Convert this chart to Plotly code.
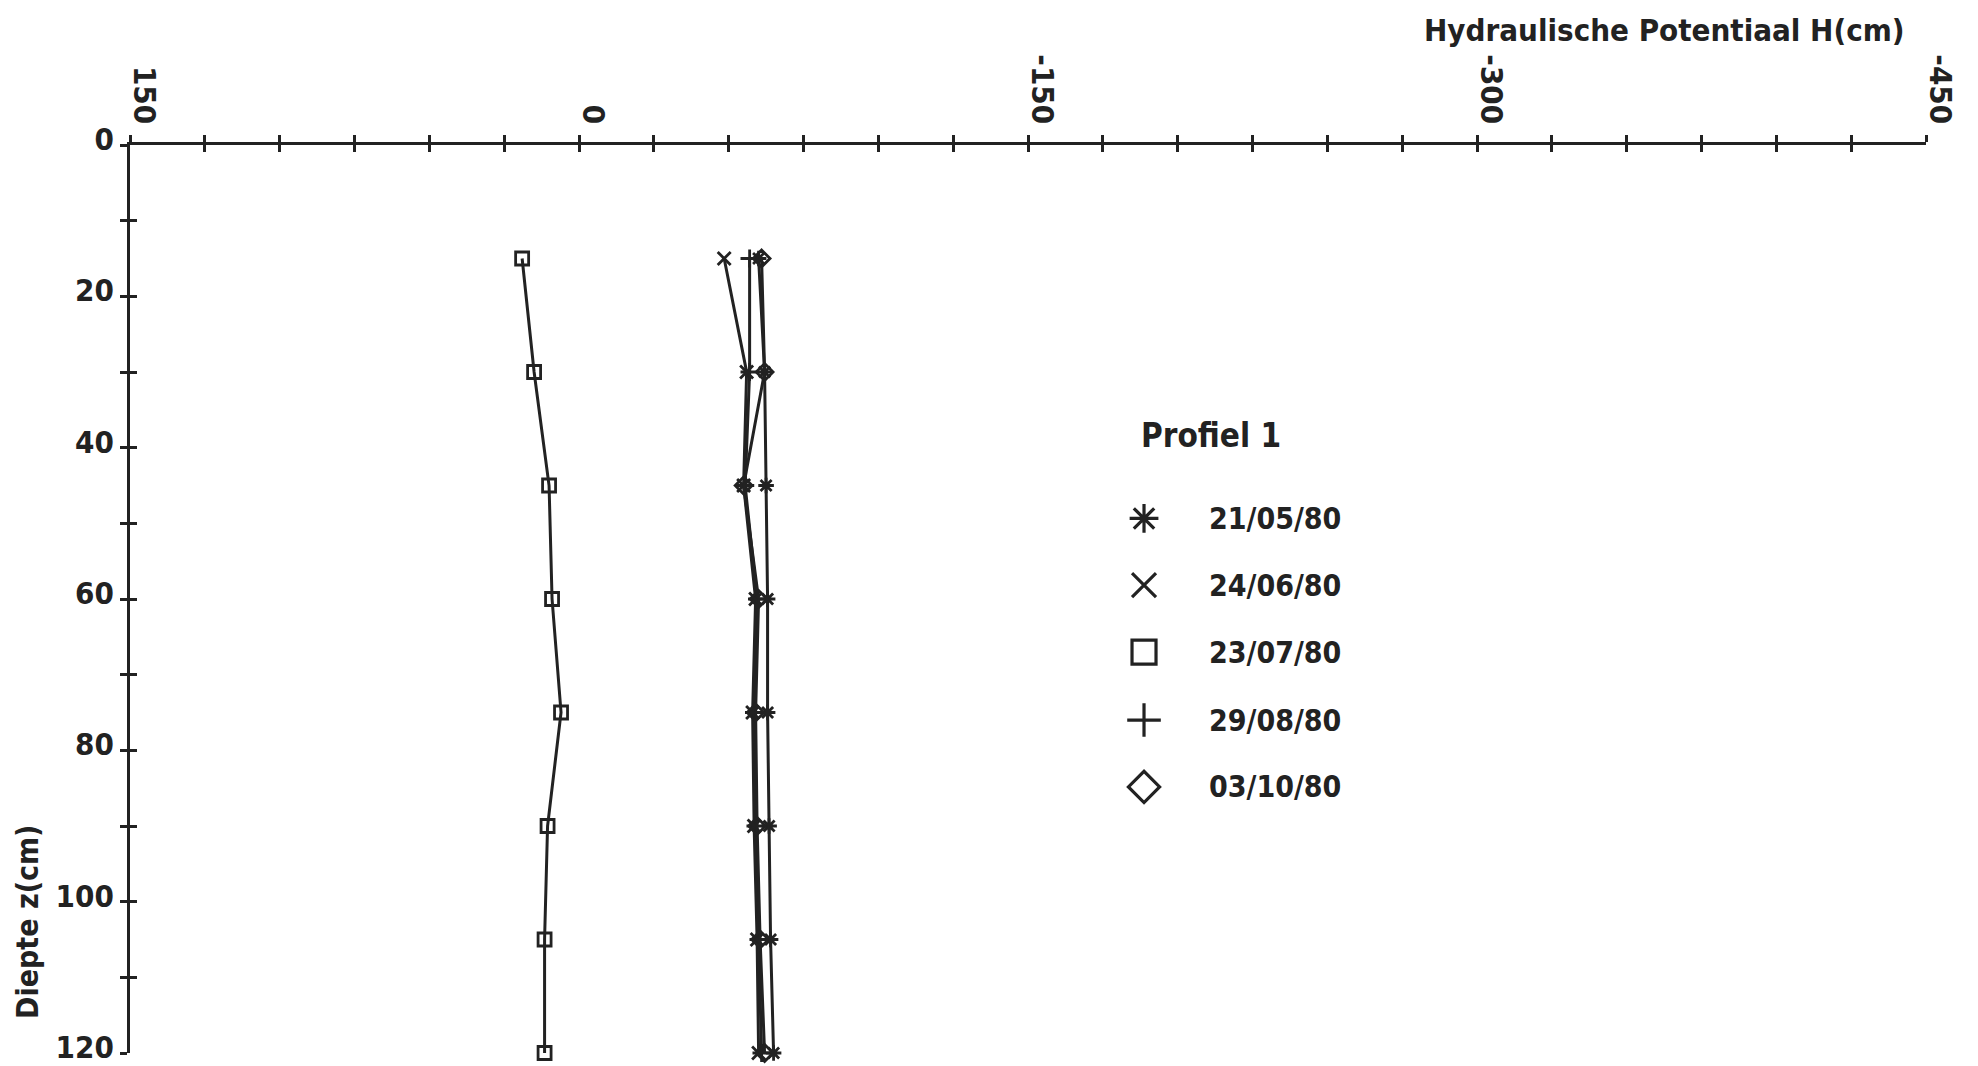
import plotly.graph_objects as go

# Measurement depths (cm) and hydraulic potential H (cm) per sampling date
depth = [15, 30, 45, 60, 75, 90, 105, 120]
dates = ["21/05/80", "24/06/80", "23/07/80", "29/08/80", "03/10/80"]
h_2105 = [-60, -62, -62.5, -63, -63, -63.5, -64, -65]
h_2406 = [-48.5, -56, -55, -59, -58, -58.5, -59.5, -60]
h_2307 = [19, 15, 10, 9, 6, 10.5, 11.5, 11.5]
h_2908 = [-57, -57, -55.5, -59.5, -58.5, -59, -60, -61]
h_0310 = [-61, -62, -55, -60, -59, -59.5, -60.5, -62]
series = [h_2105, h_2406, h_2307, h_2908, h_0310]
symbols = ["asterisk-open", "x-thin-open", "square-open", "cross-thin-open", "diamond-open"]

x_ticks = list(range(150, -451, -25))
x_labels = [str(v) if v % 150 == 0 else "" for v in x_ticks]
y_ticks = list(range(0, 121, 10))
y_labels = [str(v) if v % 20 == 0 else "" for v in y_ticks]

INK = "#222222"
FONT = "Liberation Sans Narrow, DejaVu Sans Condensed, DejaVu Sans Mono"


def txt(size):
    return dict(family=FONT, size=size, color=INK, weight="bold")


fig = go.Figure()

for vals, name, sym in zip(series, dates, symbols):
    fig.add_trace(go.Scatter(
        x=vals, y=depth, name=name, mode="lines+markers",
        line=dict(color=INK, width=3),
        marker=dict(symbol=sym, size=13, color=INK, line=dict(color=INK, width=2.8)),
        cliponaxis=False, showlegend=False,
    ))

# legend block: title, symbols and date labels
leg_x = 0.5646
leg_rows = [0.5887, 0.5154, 0.4416, 0.3667, 0.2930]
fig.add_trace(go.Scatter(
    x=[leg_x] * len(dates), y=leg_rows, mode="markers",
    marker=dict(symbol=symbols, size=24, color=INK, line=dict(color=INK, width=3.2)),
    xaxis="x3", yaxis="y3", showlegend=False, hoverinfo="skip",
))

annotations = [
    dict(text="Profiel 1", x=0.5618, y=0.6806, xref="paper", yref="paper",
         xanchor="left", yanchor="middle", showarrow=False, font=txt(33)),
    dict(text="Hydraulische Potentiaal H(cm)", x=0.9894, y=1.1267, xref="paper", yref="paper",
         xanchor="right", yanchor="middle", showarrow=False, font=txt(31)),
    dict(text="Diepte z(cm)", x=-0.0568, y=0.1443, xref="paper", yref="paper",
         xanchor="center", yanchor="middle", textangle=-90, showarrow=False, font=txt(30)),
]
for d, yr in zip(dates, leg_rows):
    annotations.append(dict(text=d, x=0.5997, y=yr, xref="paper", yref="paper",
                            xanchor="left", yanchor="middle", showarrow=False, font=txt(30)))

axis_common = dict(showgrid=False, zeroline=False, ticklen=7, tickwidth=2.5, tickcolor=INK,
                   automargin=False)

fig.update_layout(
    width=1978, height=1066,
    margin=dict(l=130, r=52, t=145, b=13),
    paper_bgcolor="white", plot_bgcolor="rgba(0,0,0,0)",
    font=txt(31),
    annotations=annotations,
    xaxis=dict(range=[150, -450], side="top", tickmode="array", tickvals=x_ticks, ticktext=x_labels,
               ticks="outside", tickangle=90, showline=True, linewidth=3, linecolor=INK,
               ticklabelshift=-14, ticklabelstandoff=0, ticklabeloverflow="allow",
               tickfont=txt(31), **axis_common),
    xaxis2=dict(range=[150, -450], side="top", overlaying="x", anchor="y", tickmode="array",
                tickvals=x_ticks, ticktext=[""] * len(x_ticks), ticks="inside", showline=False,
                **axis_common),
    yaxis=dict(range=[120, 0], tickmode="array", tickvals=y_ticks, ticktext=y_labels,
               ticks="outside", showline=True, linewidth=3, linecolor=INK,
               ticklabelshift=6, ticklabeloverflow="allow", tickfont=txt(31), **axis_common),
    yaxis2=dict(range=[120, 0], overlaying="y", anchor="x", side="left", tickmode="array",
                tickvals=y_ticks, ticktext=[""] * len(y_ticks), ticks="inside", showline=False,
                **axis_common),
    xaxis3=dict(range=[0, 1], domain=[0, 1], anchor="y3", visible=False),
    yaxis3=dict(range=[0, 1], domain=[0, 1], anchor="x3", visible=False),
)

# attach empty traces so the overlay tick axes are drawn
fig.add_trace(go.Scatter(x=[None], y=[None], xaxis="x2", yaxis="y2", showlegend=False, hoverinfo="skip"))

fig.write_html("out.html")
